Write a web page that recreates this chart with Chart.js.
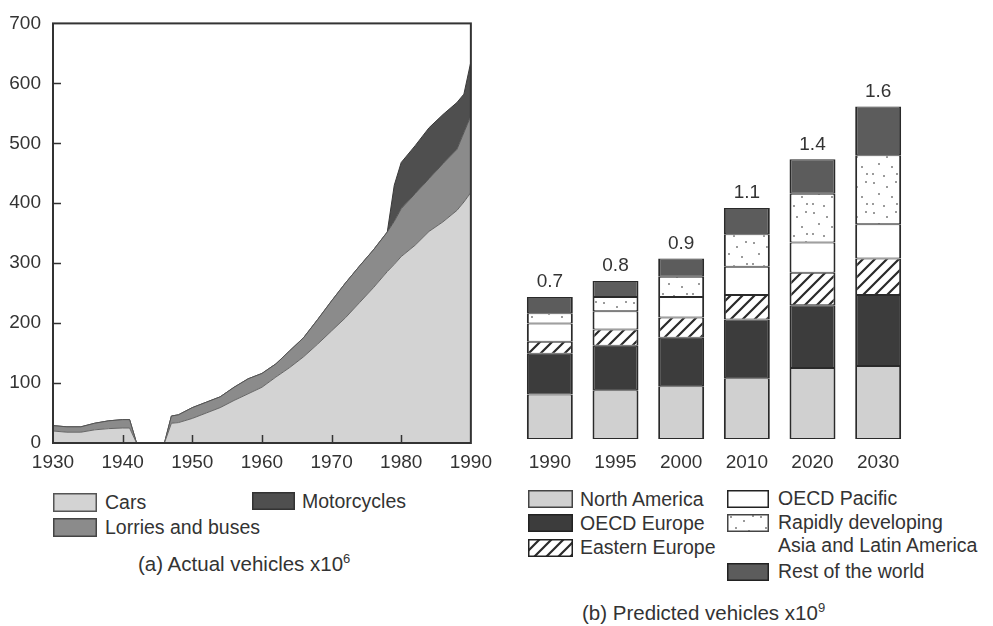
<!DOCTYPE html>
<html>
<head>
<meta charset="utf-8">
<script src="https://cdn.jsdelivr.net/npm/chart.js@4.4.0/dist/chart.umd.min.js"></script>
<style>
body{margin:0;background:#fff;width:993px;height:626px;position:relative;overflow:hidden;font-family:"Liberation Sans",Arial,sans-serif;color:#333}
canvas{position:absolute}
.lb{position:absolute;font-size:19.5px;line-height:22px;white-space:nowrap}
.ttl{position:absolute;font-size:20.5px;line-height:24px;white-space:nowrap}
.sup{font-size:13px;position:relative;top:-8px}
</style>
</head>
<body>

<canvas id="actual" width="500" height="480" style="left:0;top:0"></canvas>
<canvas id="predicted" width="420" height="420" style="left:510px;top:60px"></canvas>

<!-- legend (a) -->
<canvas id="swCars" width="44" height="19" style="left:53px;top:493px"></canvas>
<div class="lb" style="left:105px;top:491px">Cars</div>
<canvas id="swMoto" width="43" height="18" style="left:252px;top:492px"></canvas>
<div class="lb" style="left:302px;top:490px">Motorcycles</div>
<canvas id="swLorries" width="44" height="19" style="left:53px;top:518px"></canvas>
<div class="lb" style="left:105px;top:516px">Lorries and buses</div>
<div class="ttl" style="left:138px;top:552px">(a) Actual vehicles x10<span class="sup">6</span></div>

<!-- legend (b) -->
<canvas id="swNA" width="45" height="18" style="left:528px;top:490px"></canvas>
<div class="lb" style="left:580px;top:488px">North America</div>
<canvas id="swOE" width="45" height="18" style="left:528px;top:514px"></canvas>
<div class="lb" style="left:580px;top:512px">OECD Europe</div>
<canvas id="swEE" width="45" height="18" style="left:528px;top:539px"></canvas>
<div class="lb" style="left:580px;top:536px">Eastern Europe</div>
<canvas id="swOP" width="42" height="18" style="left:727px;top:490px"></canvas>
<div class="lb" style="left:778px;top:487px">OECD Pacific</div>
<canvas id="swRD" width="42" height="18" style="left:727px;top:514px"></canvas>
<div class="lb" style="left:778px;top:511px;line-height:23px">Rapidly developing<br>Asia and Latin America</div>
<canvas id="swRW" width="42" height="18" style="left:727px;top:563px"></canvas>
<div class="lb" style="left:778px;top:560px">Rest of the world</div>
<div class="ttl" style="left:582px;top:601px">(b) Predicted vehicles x10<span class="sup">9</span></div>

<script>
// actual vehicles (millions), stacked
const years       = [1930,1932,1934,1936,1938,1940,1941,1942,1946,1947,1948,1950,1952,1954,1956,1958,1960,1962,1964,1966,1968,1970,1972,1974,1976,1978,1979,1980,1982,1984,1986,1988,1989,1990]
const cars        = [20,18,18,22,24,25,25,0,0,33,34,41,50,59,71,82,93,110,126,144,165,187,209,234,259,286,298,311,330,353,369,388,402,418]
const lorries     = [9,9,9,11,13,14,14,0,0,12,13,18,18,18,22,25,23,22,28,32,41,50,58,61,63,66,72,80,86,88,97,102,116,128]
const motorcycles = [0,0,0,0,0,0,0,0,0,0,0,0,0,0,0,0,0,0,0,0,0,0,0,0,0,0,60,77,80,85,82,78,64,90]

// predicted vehicles (billions) by region
const periods      = ['1990','1995','2000','2010','2020','2030']
const northAmerica = [0.22,0.24,0.26,0.30,0.35,0.36]
const oecdEurope   = [0.20,0.22,0.24,0.29,0.31,0.35]
const eastEurope   = [0.06,0.08,0.10,0.12,0.16,0.18]
const oecdPacific  = [0.09,0.09,0.10,0.14,0.15,0.17]
const rapidDev     = [0.05,0.07,0.10,0.16,0.24,0.34]
const restOfWorld  = [0.08,0.08,0.09,0.13,0.17,0.24]

const ink = '#333'
const font = {family:'"Liberation Sans", Arial, sans-serif', size:19}

function hatch(){
const c = document.createElement('canvas')
c.width = 12; c.height = 12
const g = c.getContext('2d')
g.fillStyle = '#fff'
g.fillRect(0,0,12,12)
g.strokeStyle = '#2a2a2a'
g.lineWidth = 2.2
g.beginPath()
g.moveTo(-2,14); g.lineTo(14,-2)
g.moveTo(-2,2); g.lineTo(2,-2)
g.moveTo(10,14); g.lineTo(14,10)
g.stroke()
return g.createPattern(c,'repeat')
}

function dots(){
const c = document.createElement('canvas')
c.width = 30; c.height = 30
const g = c.getContext('2d')
g.fillStyle = '#fff'
g.fillRect(0,0,30,30)
g.fillStyle = '#7a7a7a'
const spots = [[4,3],[17,7],[26,2],[9,14],[22,17],[3,24],[14,26],[27,24]]
spots.forEach(p => { g.beginPath(); g.arc(p[0],p[1],1,0,Math.PI*2); g.fill() })
return g.createPattern(c,'repeat')
}

const hatchFill = hatch()
const dotFill = dots()

const carsCol = '#d3d3d3', lorriesCol = '#8b8b8b', motoCol = '#4f4f4f'
const naCol = '#d0d0d0', oeCol = '#3c3c3c', opCol = '#ffffff', rwCol = '#5c5c5c'

function pts(arr){
return years.map((y,i) => ({x:y, y:arr[i]}))
}

// frame + inward tick marks
const frame = {
id:'frame',
afterDatasetsDraw(chart){
const {ctx, chartArea:a, scales} = chart
ctx.save()
ctx.strokeStyle = ink
ctx.lineWidth = 1.5
scales.y.ticks.forEach(t => {
if(t.value <= 0 || t.value >= 700) return
const py = Math.round(scales.y.getPixelForValue(t.value)) + 0.5
ctx.beginPath(); ctx.moveTo(a.left, py); ctx.lineTo(a.left + 8, py); ctx.stroke()
})
scales.x.ticks.forEach(t => {
if(t.value <= 1930 || t.value >= 1990) return
const px = Math.round(scales.x.getPixelForValue(t.value)) + 0.5
ctx.beginPath(); ctx.moveTo(px, a.bottom); ctx.lineTo(px, a.bottom - 8); ctx.stroke()
})
ctx.lineWidth = 2
ctx.strokeRect(a.left, a.top, a.right - a.left, a.bottom - a.top)
ctx.restore()
}
}

new Chart(document.getElementById('actual'),{
type:'line',
data:{datasets:[
{label:'Cars', data:pts(cars), backgroundColor:carsCol, borderColor:'#666', fill:'origin'},
{label:'Lorries and buses', data:pts(lorries), backgroundColor:lorriesCol, borderColor:'#555', fill:'-1'},
{label:'Motorcycles', data:pts(motorcycles), backgroundColor:motoCol, borderColor:'#3a3a3a', fill:'-1'}
]},
options:{
responsive:false,
animation:false,
layout:{padding:{top:20, right:29}},
elements:{point:{radius:0}, line:{borderWidth:1, tension:0}},
plugins:{legend:{display:false}, tooltip:{enabled:false}},
scales:{
x:{type:'linear', min:1930, max:1990, grid:{display:false, drawTicks:false}, border:{display:false},
ticks:{stepSize:10, color:ink, font:font, padding:8, maxRotation:0, callback:v => String(v)},
afterFit:s => { s.height = 37 }},
y:{stacked:true, min:0, max:700, grid:{display:false, drawTicks:false}, border:{display:false},
ticks:{stepSize:100, color:ink, font:font, padding:12},
afterFit:s => { s.width = 53 }}
}
},
plugins:[frame]
})

// totals above each bar
const totals = {
id:'totals',
afterDatasetsDraw(chart){
const {ctx} = chart
const last = chart.getDatasetMeta(chart.data.datasets.length - 1)
ctx.save()
ctx.fillStyle = ink
ctx.font = '19px "Liberation Sans", Arial, sans-serif'
ctx.textAlign = 'center'
ctx.textBaseline = 'middle'
last.data.forEach((bar,i) => {
const sum = chart.data.datasets.reduce((s,d) => s + d.data[i], 0)
ctx.fillText(sum.toFixed(1), bar.x, bar.y - 15)
})
ctx.restore()
}
}

new Chart(document.getElementById('predicted'),{
type:'bar',
data:{labels:periods, datasets:[
{label:'North America', data:northAmerica, backgroundColor:naCol},
{label:'OECD Europe', data:oecdEurope, backgroundColor:oeCol},
{label:'Eastern Europe', data:eastEurope, backgroundColor:hatchFill},
{label:'OECD Pacific', data:oecdPacific, backgroundColor:opCol},
{label:'Rapidly developing Asia and Latin America', data:rapidDev, backgroundColor:dotFill},
{label:'Rest of the world', data:restOfWorld, backgroundColor:rwCol}
]},
options:{
responsive:false,
animation:false,
layout:{padding:{left:7, right:19, top:4}},
datasets:{bar:{categoryPercentage:1, barPercentage:0.7, borderColor:'#2a2a2a',
borderWidth:{top:1, bottom:1, left:2, right:2}, borderSkipped:false}},
plugins:{legend:{display:false}, tooltip:{enabled:false}},
scales:{
x:{stacked:true, grid:{display:false, drawTicks:false}, border:{display:false},
ticks:{color:ink, font:font, padding:12}, afterFit:s => { s.height = 41 }},
y:{stacked:true, display:false, min:0, max:1.85}
}
},
plugins:[totals]
})

// legend swatches
function swatch(id, fill, edge){
const c = document.getElementById(id)
const g = c.getContext('2d')
g.fillStyle = fill
g.fillRect(0,0,c.width,c.height)
g.strokeStyle = edge
g.lineWidth = 1.5
g.strokeRect(0.75,0.75,c.width-1.5,c.height-1.5)
}
swatch('swCars', carsCol, '#555')
swatch('swMoto', motoCol, '#333')
swatch('swLorries', lorriesCol, '#444')
swatch('swNA', naCol, '#444')
swatch('swOE', oeCol, '#222')
swatch('swEE', hatchFill, '#222')
swatch('swOP', opCol, '#222')
swatch('swRD', dotFill, '#444')
swatch('swRW', rwCol, '#222')
</script>
</body>
</html>
